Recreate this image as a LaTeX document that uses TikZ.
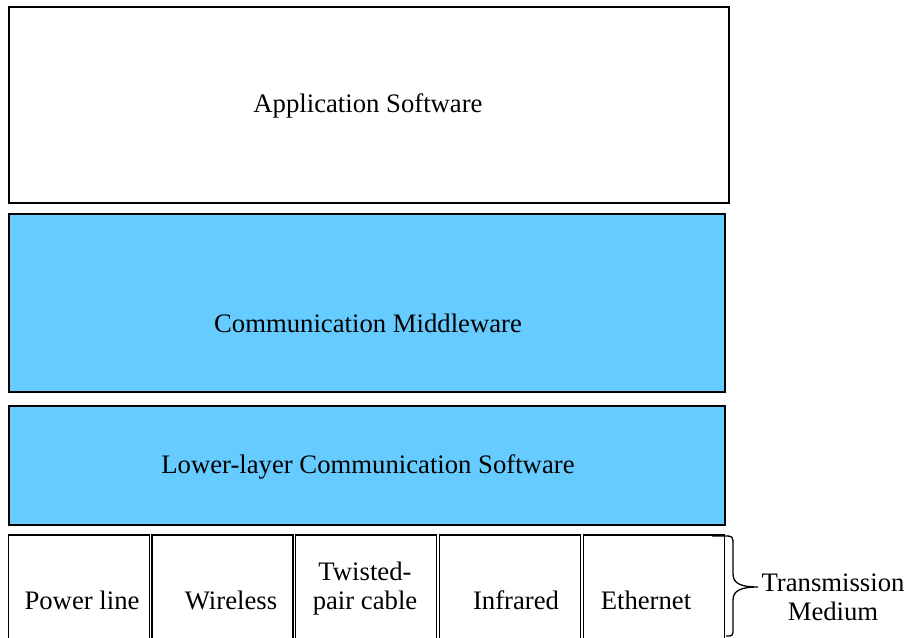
\documentclass[tikz,border=0pt]{standalone}
\usepackage{fontspec}
\setmainfont{Liberation Serif}
\definecolor{layerblue}{RGB}{102,204,255}
\tikzset{
  layer/.style={draw, line width=1.5pt, inner sep=0pt},
  medium/.style={draw, line width=1.5pt, inner sep=0pt, minimum width=141pt, minimum height=130pt},
  caption/.style={align=center, inner sep=0pt, font=\fontsize{26.7}{29}\selectfont}
}
\begin{document}
\begin{tikzpicture}[x=1pt, y=-1pt]
  \useasboundingbox (0,0) rectangle (907,637);
  \clip (0,0) rectangle (907,637);

  % software layers
  \node[layer, minimum width=720pt, minimum height=196pt] (app) at (369,105) {};
  \node[caption] (apptext) at (368,106) {Application Software};
  \node[layer, fill=layerblue, minimum width=716pt, minimum height=178pt] (mid) at (367,303) {};
  \node[caption] (midtext) at (368,323) {Communication Middleware};
  \node[layer, fill=layerblue, minimum width=716pt, minimum height=119pt] (low) at (367,465.5) {};
  \node[caption] (lowtext) at (368,467) {Lower-layer Communication Software};

  % transmission media
  \node[medium] (pl) at (79,600) {};
  \node[caption] (pltext) at (82,600) {Power line};
  \node[medium] (wl) at (222.5,600) {};
  \node[caption] (wltext) at (231,600) {Wireless};
  \node[medium] (tp) at (366,600) {};
  \node[caption] (tptext) at (365,589) {Twisted-\\pair cable};
  \node[medium] (ir) at (510,600) {};
  \node[caption] (irtext) at (516,600) {Infrared};
  \node[medium] (eth) at (654,600) {};
  \node[caption] (ethtext) at (646,600) {Ethernet};

  % brace
  \coordinate (bracetop) at (712,536);
  \coordinate (bracetip) at (758,587);
  \coordinate (bracebot) at (726,636);
  \draw[line width=1.3pt] (bracetop) -- (724,536) .. controls (733,536) .. (733,546) -- (733,574)
    .. controls (733,584) and (742,587) .. (bracetip)
    .. controls (742,587) and (733,590) .. (733,600) -- (733,628)
    .. controls (733,636) .. (bracebot);
  \node[caption] (tm) at (833,597) {Transmission\\Medium};
\end{tikzpicture}
\end{document}
